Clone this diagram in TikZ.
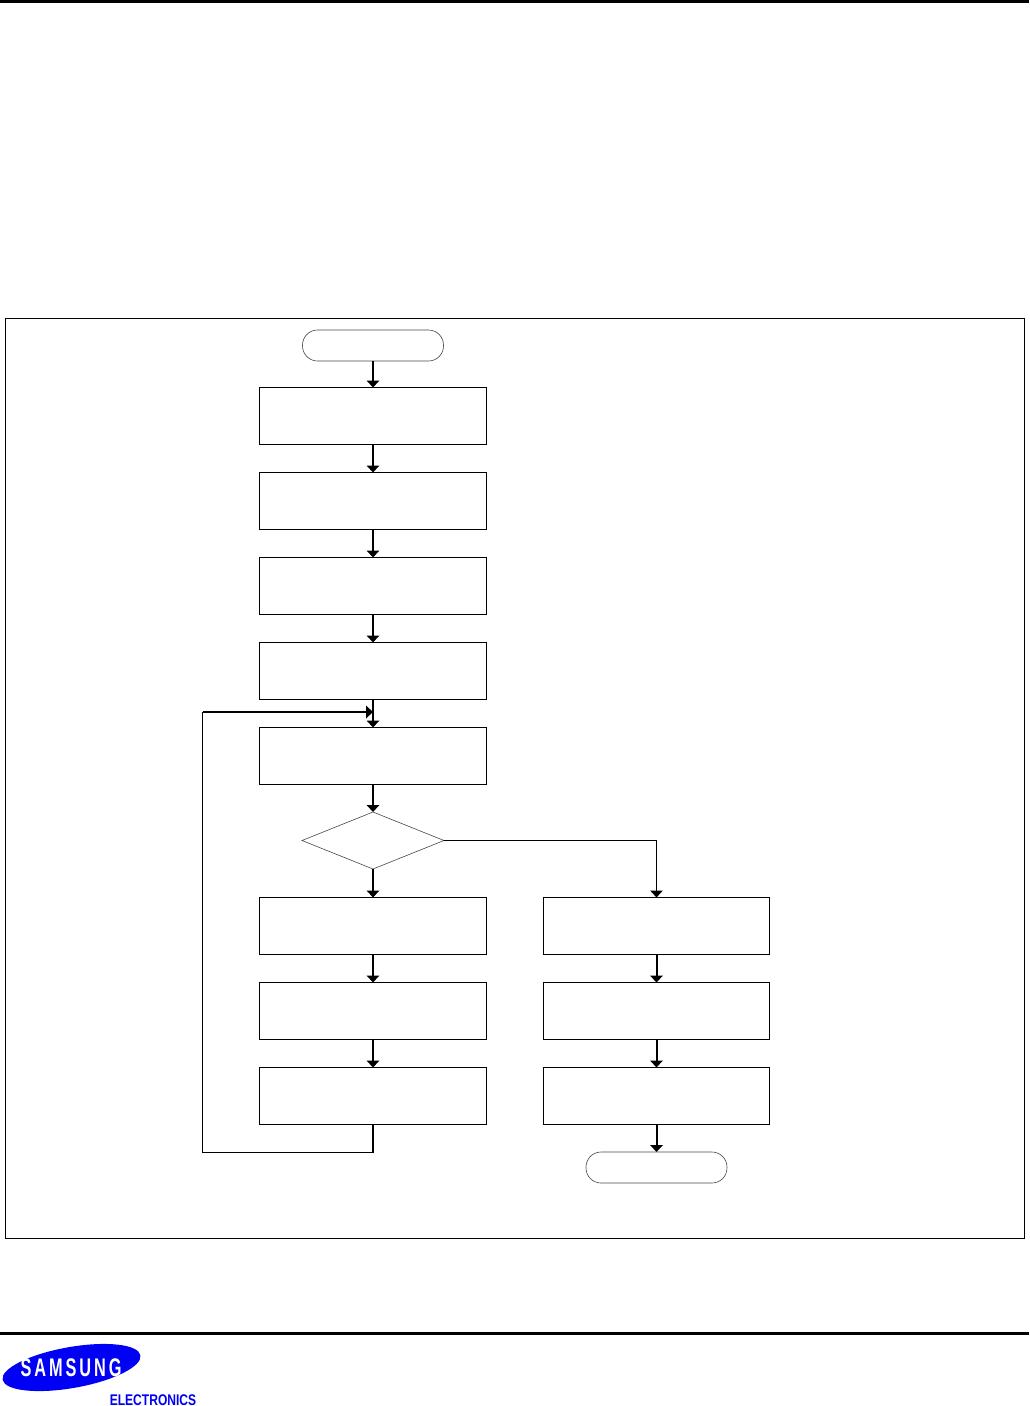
\documentclass[tikz,border=0pt]{standalone}
\usepackage{xcolor}
\usepackage{fontspec}
\setmainfont{Liberation Sans}
\usetikzlibrary{shapes.geometric, arrows.meta, positioning}
\definecolor{logoblue}{RGB}{0, 0, 245}
\definecolor{edgegray}{RGB}{70, 70, 70}

\begin{document}
\begin{tikzpicture}[x=0.02cm, y=-0.02cm,
  stepbox/.style={rectangle, draw=black, line width=0.02cm,
    minimum width=4.54cm, minimum height=1.14cm,
    inner sep=0pt, outer sep=0pt},
  term/.style={rectangle, rounded corners=0.3cm, draw=edgegray, line width=0.012cm,
    minimum width=2.82cm, minimum height=0.62cm,
    inner sep=0pt, outer sep=0pt},
  dec/.style={diamond, draw=edgegray, line width=0.012cm,
    minimum width=2.84cm, minimum height=1.14cm,
    inner sep=0pt, outer sep=0pt},
  arr/.style={-{Triangle[length=0.14cm, width=0.25cm]}, line width=0.04cm, color=black},
  thinarr/.style={-{Triangle[length=0.14cm, width=0.25cm]}, line width=0.02cm, color=black},
  stub/.style={line width=0.04cm, color=black},
  thinln/.style={line width=0.02cm, color=black},
  rule/.style={line width=0.06cm, color=black}
]
\useasboundingbox (0,0) rectangle (1029,1406);
% Page rules and frame
\draw[rule] (0,1.4) -- (1029,1.4);
\draw[rule] (0,1333.5) -- (1029,1333.5);
\draw[thinln] (5.5,318.5) rectangle (1024.5,1238.5);
% Main column
\node[term] at (373,345.5) (start) {};
\node[stepbox] at (373,416) (a1) {};
\node[stepbox] at (373,501) (a2) {};
\node[stepbox] at (373,586) (a3) {};
\node[stepbox] at (373,671) (a4) {};
\node[stepbox] at (373,756) (a5) {};
\node[dec] at (373,840.5) (test) {};
\node[stepbox] at (373,926) (b1) {};
\node[stepbox] at (373,1011) (b2) {};
\node[stepbox] at (373,1096) (b3) {};
% Right column
\node[stepbox] at (656.5,926) (c1) {};
\node[stepbox] at (656.5,1011) (c2) {};
\node[stepbox] at (656.5,1096) (c3) {};
\node[term] at (656.5,1167.5) (stop) {};
% Arrows down the columns
\draw[arr] (start.south) -- (a1.north);
\draw[arr] (a1.south) -- (a2.north);
\draw[arr] (a2.south) -- (a3.north);
\draw[arr] (a3.south) -- (a4.north);
\draw[arr] (a4.south) -- (a5.north);
\draw[arr] (a5.south) -- (test.north);
\draw[arr] (test.south) -- (b1.north);
\draw[arr] (b1.south) -- (b2.north);
\draw[arr] (b2.south) -- (b3.north);
\draw[arr] (c1.south) -- (c2.north);
\draw[arr] (c2.south) -- (c3.north);
\draw[arr] (c3.south) -- (stop.north);
% Branch to the right column
\draw[thinarr] (test.east) -| (c1.north);
% Loop back
\coordinate (loopb) at (373,1152.5);
\coordinate (loopt) at (202.5,712);
\coordinate (join) at (373,712);
\draw[stub] (b3.south) -- (loopb);
\draw[thinln] (loopb) -| (loopt);
\draw[arr] (loopt) -- (join);
% Logo
\node[ellipse, fill=logoblue, rotate=10, minimum width=2.8cm, minimum height=0.82cm,
  inner sep=0pt] at (71.5,1367.5) (logo) {};
\node[text=white, font=\fontsize{14.5pt}{15pt}\selectfont\bfseries\addfontfeatures{LetterSpace=18},
  xscale=0.64, inner sep=0pt] at (71,1367.5) (brand) {SAMSUNG};
\node[text=logoblue, font=\fontsize{8.8pt}{9pt}\selectfont\bfseries, xscale=0.78,
  inner sep=0pt] at (153,1400) (elec) {ELECTRONICS};
\end{tikzpicture}
\end{document}
